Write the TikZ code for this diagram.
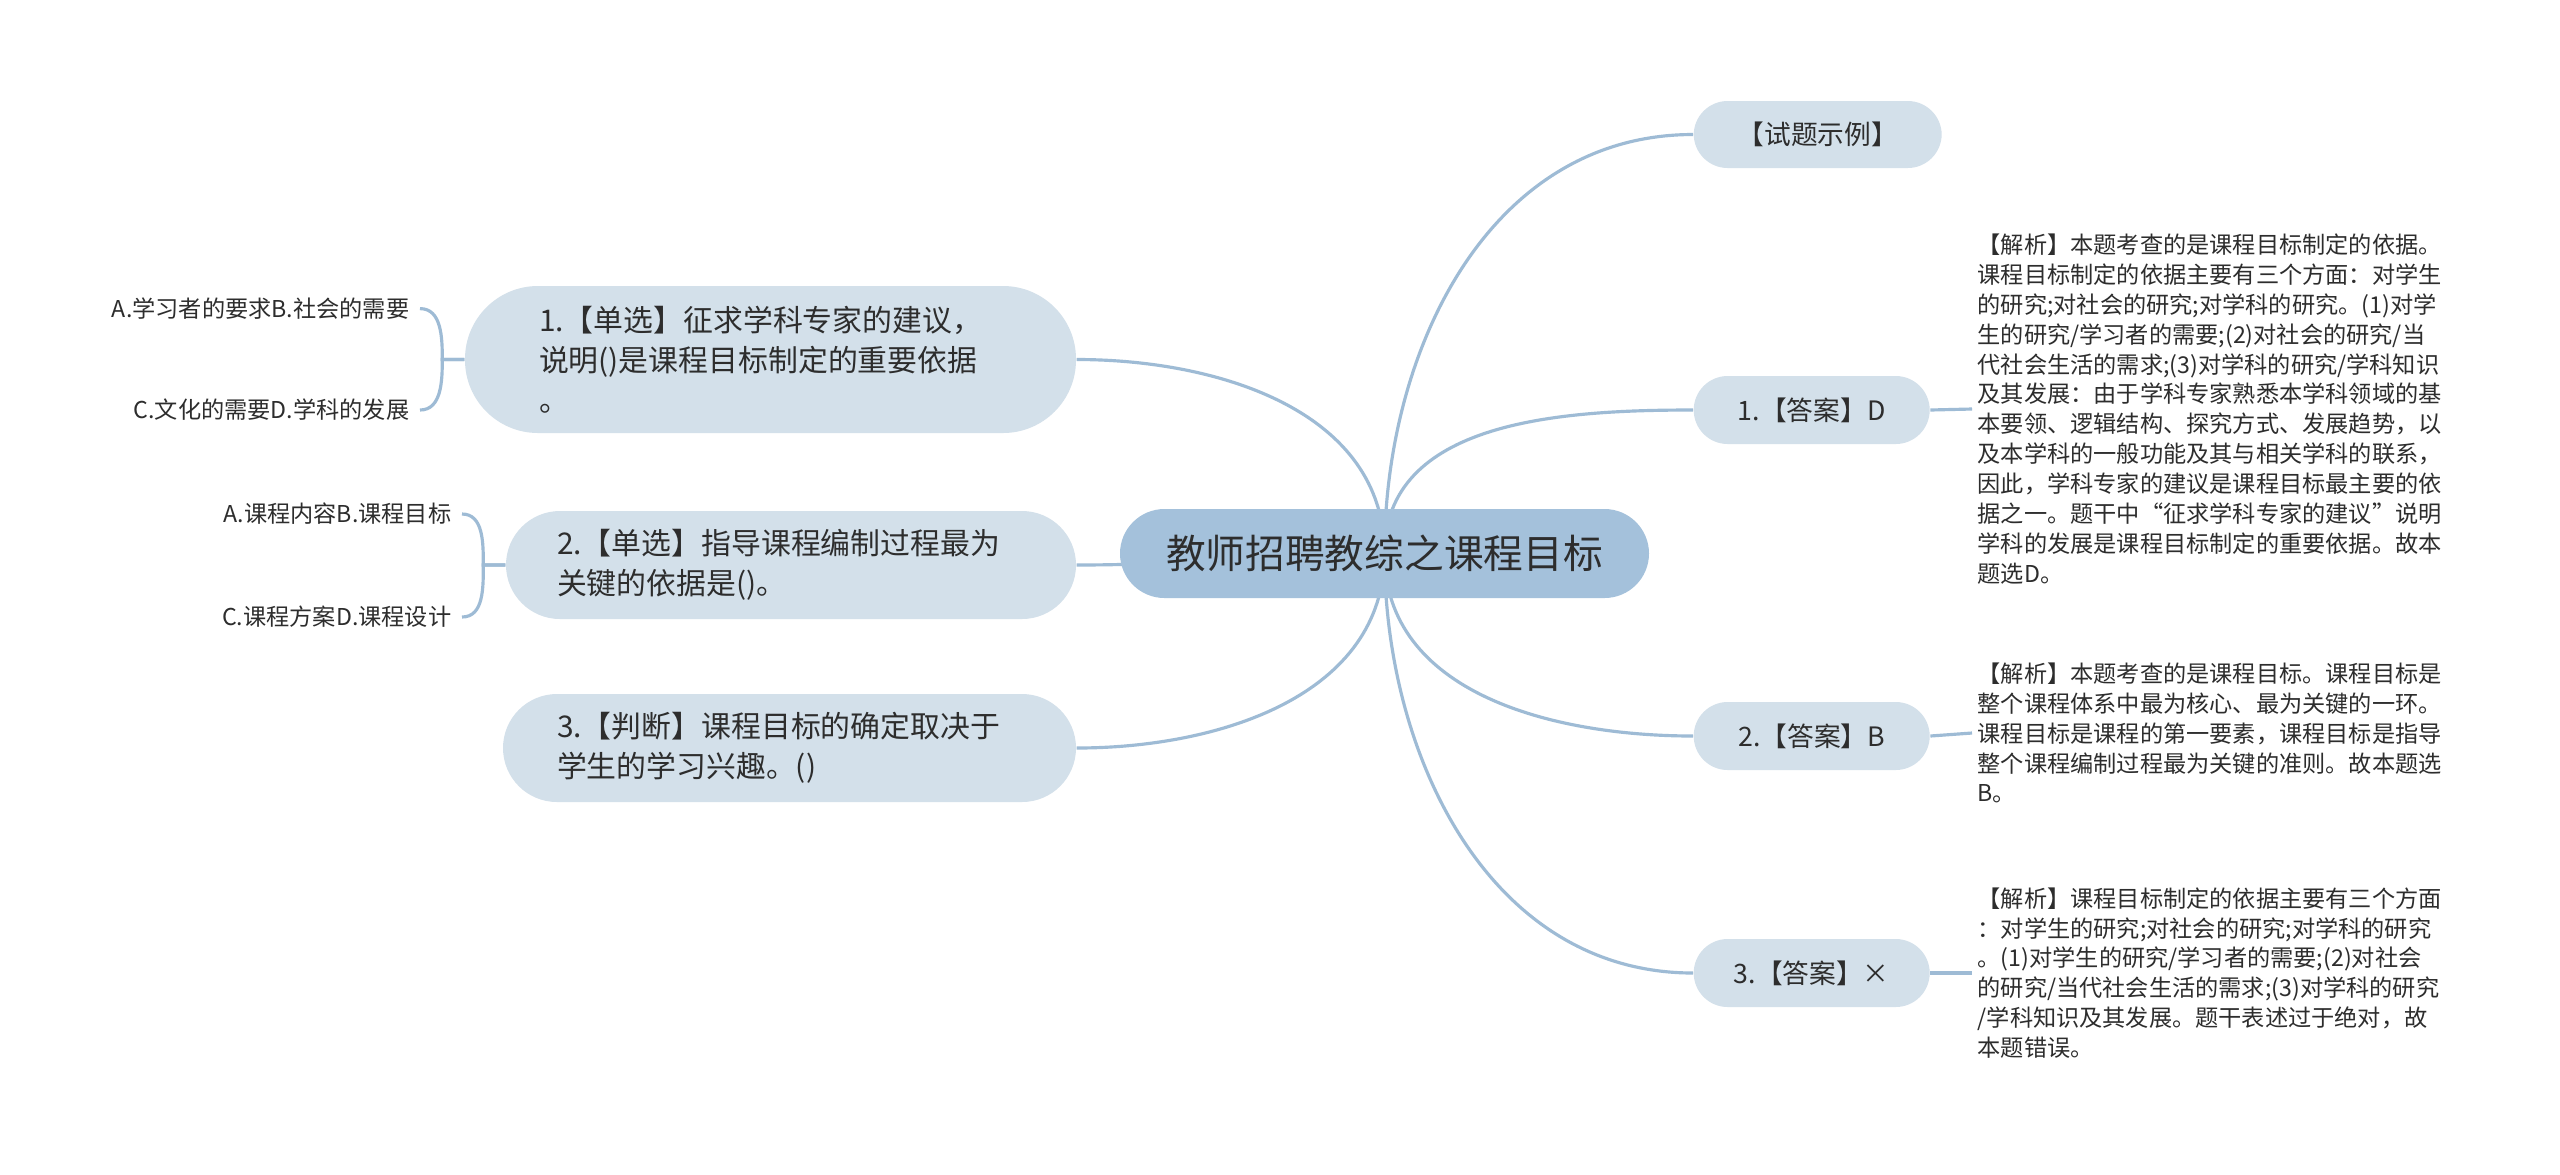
\documentclass[tikz,border=0pt]{standalone}
\usepackage{fontspec}
\setmainfont{Noto Sans CJK SC}
\usetikzlibrary{backgrounds}
\definecolor{rootblue}{RGB}{164, 193, 219}
\definecolor{paleblue}{RGB}{211, 224, 234}
\definecolor{linkblue}{RGB}{158, 187, 213}
\definecolor{inkgray}{RGB}{45, 45, 45}

\begin{document}
\begin{tikzpicture}[
    root/.style={fill=rootblue, rounded corners=0.445cm, minimum width=5.29cm,
      minimum height=0.89cm, inner sep=0pt, text=inkgray,
      font=\fontsize{11.3}{13}\selectfont},
    topic/.style={fill=paleblue, rounded corners=0.34cm, minimum height=0.68cm,
      minimum width=2.36cm, inner sep=0pt, anchor=west, text=inkgray,
      font=\fontsize{7.6}{9}\selectfont},
    question/.style={fill=paleblue, align=left, inner ysep=0pt, text=inkgray,
      font=\fontsize{8.5}{11.4}\selectfont},
    note/.style={align=left, inner sep=0.05cm, anchor=west, text=inkgray,
      font=\fontsize{6.6}{8.5}\selectfont},
    option/.style={inner sep=0.1cm, anchor=east, text=inkgray,
      font=\fontsize{6.6}{8}\selectfont},
    link/.style={draw=linkblue, line width=0.9pt},
  ]
        \useasboundingbox (0,0) rectangle (25.6,-11.74);

        \node[root] (root) at (13.845,-5.535) {教师招聘教综之课程目标};

        % left: questions
        \node[question, minimum height=1.47cm, rounded corners=0.73cm,
          inner xsep=0.74cm, text width=4.63cm] (q1) at (7.705,-3.595)
          {1.【单选】征求学科专家的建议，\\说明()是课程目标制定的重要依据\\。};
        \node[question, minimum height=1.08cm, rounded corners=0.54cm,
          inner xsep=0.51cm, text width=4.68cm] (q2) at (7.91,-5.65)
          {2.【单选】指导课程编制过程最为\\关键的依据是()。};
        \node[question, minimum height=1.08cm, rounded corners=0.54cm,
          inner xsep=0.54cm, text width=4.65cm] (q3) at (7.895,-7.48)
          {3.【判断】课程目标的确定取决于\\学生的学习兴趣。()};

        \node[option] (q1a) at (4.20,-3.086) {A.学习者的要求B.社会的需要};
        \node[option] (q1c) at (4.20,-4.10) {C.文化的需要D.学科的发展};
        \node[option] (q2a) at (4.62,-5.14) {A.课程内容B.课程目标};
        \node[option] (q2c) at (4.62,-6.17) {C.课程方案D.课程设计};

        % right: examples and answers
        \node[topic, minimum width=2.48cm, minimum height=0.67cm] (demo) at (16.93,-1.345) {【试题示例】};
        \node[topic] (ans1) at (16.93,-4.10) {1.【答案】D};
        \node[topic] (ans2) at (16.93,-7.36) {2.【答案】B};
        \node[topic] (ans3) at (16.93,-9.73) {3.【答案】×};

        \node[note] (note1) at (19.72,-4.09)
        {【解析】本题考查的是课程目标制定的依据。\\
        课程目标制定的依据主要有三个方面：对学生\\
        的研究;对社会的研究;对学科的研究。(1)对学\\
        生的研究/学习者的需要;(2)对社会的研究/当\\
        代社会生活的需求;(3)对学科的研究/学科知识\\
        及其发展：由于学科专家熟悉本学科领域的基\\
        本要领、逻辑结构、探究方式、发展趋势，以\\
        及本学科的一般功能及其与相关学科的联系，\\
        因此，学科专家的建议是课程目标最主要的依\\
        据之一。题干中“征求学科专家的建议”说明\\
        学科的发展是课程目标制定的重要依据。故本\\
        题选D。};
        \node[note] (note2) at (19.72,-7.33)
        {【解析】本题考查的是课程目标。课程目标是\\
        整个课程体系中最为核心、最为关键的一环。\\
        课程目标是课程的第一要素，课程目标是指导\\
        整个课程编制过程最为关键的准则。故本题选\\
        B。};
        \node[note] (note3) at (19.72,-9.73)
        {【解析】课程目标制定的依据主要有三个方面\\
        ：对学生的研究;对社会的研究;对学科的研究\\
        。(1)对学生的研究/学习者的需要;(2)对社会\\
        的研究/当代社会生活的需求;(3)对学科的研究\\
        /学科知识及其发展。题干表述过于绝对，故\\
        本题错误。};

        \begin{scope}[on background layer]
        \fill[white] (0,0) rectangle (25.6,-11.74);
        \draw[link] (root.center) to[out=90,in=180] (demo.west);
        \draw[link] (root.center) to[out=90,in=180] (ans1.west);
        \draw[link] (root.center) to[out=270,in=180] (ans2.west);
        \draw[link] (root.center) to[out=270,in=180] (ans3.west);
        \draw[link] (root.center) to[out=90,in=0] (q1.east);
        \draw[link] (root.center) to[out=180,in=0] (q2.east);
        \draw[link] (root.center) to[out=270,in=0] (q3.east);
        \draw[link] (ans1.east) -- (note1.west);
        \draw[link] (ans2.east) -- (note2.west);
        \draw[link] (ans3.east) -- (note3.west);
        \draw[link] (q1.west) -- ++(-0.22,0) to[out=90,in=0] (q1a.east);
        \draw[link] (q1.west) -- ++(-0.22,0) to[out=270,in=0] (q1c.east);
        \draw[link] (q2.west) -- ++(-0.22,0) to[out=90,in=0] (q2a.east);
        \draw[link] (q2.west) -- ++(-0.22,0) to[out=270,in=0] (q2c.east);
        \end{scope}
\end{tikzpicture}
\end{document}
